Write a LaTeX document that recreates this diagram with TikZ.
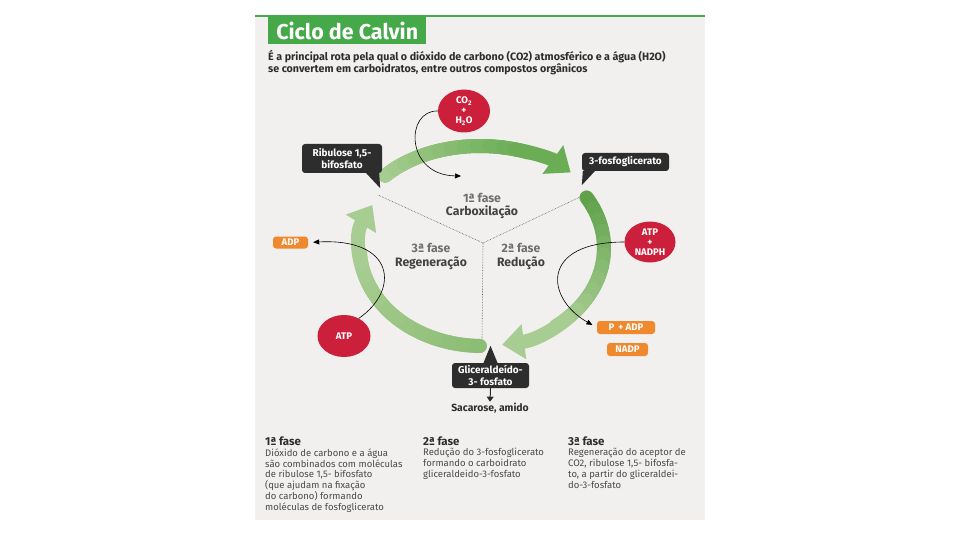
\documentclass[tikz,border=0pt]{standalone}
\usepackage{fontspec}
\setmainfont{Fira Sans}
\usetikzlibrary{positioning,arrows.meta,shapes.geometric,calc}
\definecolor{leaf}{HTML}{45A94A}
\definecolor{panel}{HTML}{F1F0EF}
\definecolor{crimson}{HTML}{CC1F3C}
\definecolor{tangerine}{HTML}{F0892E}
\definecolor{ink}{HTML}{2D2D2D}
\definecolor{soft}{HTML}{6E6E6E}
\definecolor{bodytext}{HTML}{4A4A4A}
\definecolor{arcdark}{HTML}{5FA24A}
\definecolor{arcmid}{HTML}{8CBD74}
\definecolor{arclight}{HTML}{A8CD92}
\definecolor{arctop}{HTML}{6BAD55}

% one green band of the cycle, shaded from #7 to #8
\newcommand{\cyclearc}[8]{%
  \draw[arcband,draw=#8,-{Triangle[width=34pt,length=22pt]}]
    (#1,#2) ++(#5:#3 and #4) arc[start angle=#5,end angle=#6,x radius=#3,y radius=#4];
  \foreach \k in {0,...,11}{
    \pgfmathsetmacro{\ta}{#5+(#6-#5)*0.75*\k/12}
    \pgfmathsetmacro{\tb}{#5+(#6-#5)*0.75*(\k+1)/12}
    \pgfmathtruncatemacro{\pc}{100-100*\k/11}
    \draw[arcband,draw=#7!\pc!#8]
      (#1,#2) ++(\ta:#3 and #4) arc[start angle=\ta,end angle=\tb,x radius=#3,y radius=#4];
  }
}

\tikzset{
  callout/.style={fill=ink,rounded corners=3pt,text=white,align=center,inner sep=1pt,
    font=\fontsize{10}{11.5}\selectfont\bfseries},
  molecule/.style={ellipse,fill=crimson,text=white,align=center,inner sep=0pt,
    font=\fontsize{9.6}{10}\selectfont\bfseries},
  byproduct/.style={fill=tangerine,rounded corners=3pt,text=white,inner sep=0pt,
    font=\fontsize{9.6}{10}\selectfont\bfseries},
  arcband/.style={line width=14pt,line cap=round},
  link/.style={-{Triangle[length=6pt,width=5pt]},line width=0.6pt,black},
  divider/.style={densely dotted,line width=0.6pt,ink!80},
  phase/.style={align=center,inner sep=0pt,text=ink!90,
    font=\fontsize{12.2}{13.5}\selectfont\bfseries},
  colhead/.style={anchor=north west,inner sep=0pt,text=ink,
    font=\fontsize{11.5}{12}\selectfont\bfseries},
  colbody/.style={anchor=north west,inner sep=0pt,align=left,text=bodytext,
    font=\fontsize{9.5}{10.9}\selectfont},
}

\begin{document}
\begin{tikzpicture}[x=1pt,y=-1pt]
\useasboundingbox (0,0) rectangle (960,540);
\fill[white] (0,0) rectangle (960,540);
\fill[panel] (255,16) rectangle (705,520);
\draw[leaf,line width=2pt] (255,16) -- (705,16);

% heading
\node[fill=leaf,text=white,font=\fontsize{21.5}{22}\selectfont\bfseries,
      minimum width=158pt,minimum height=27pt,anchor=north west] (title) at (268,17) {Ciclo de Calvin};
\node[anchor=north west,align=left,inner sep=0pt,text=ink,
      font=\fontsize{10.7}{11.5}\selectfont\bfseries] (lead) at (268,50.5)
  {É a principal rota pela qual o dióxido de carbono (CO2) atmosférico e a água (H2O)\\
   se convertem em carboidratos, entre outros compostos orgânicos};

% the three phases
\coordinate (mid) at (483,243);
\coordinate (cut1) at (378,195);
\coordinate (cut2) at (580,197);
\coordinate (cut3) at (482,340);
\draw[divider] (mid) -- (cut1);
\draw[divider] (mid) -- (cut2);
\draw[divider] (mid) -- (cut3);

\cyclearc{480}{226}{122}{80}{-141}{-42}{arclight}{arctop}
\cyclearc{482}{248}{122}{98}{-31}{80.5}{arcdark}{arclight}
\cyclearc{482}{248}{122}{98}{91}{206}{arcmid}{arclight}

\node[phase] (ph1) at (482,206) {{\color{soft}1ª fase}\\Carboxilação};
\node[phase] (ph2) at (521,256.5) {{\color{soft}2ª fase}\\Redução};
\node[phase] (ph3) at (431,256.5) {{\color{soft}3ª fase}\\Regeneração};

% callouts
\node[callout,minimum width=80pt,minimum height=29pt] (rib) at (342,158.5) {Ribulose 1,5-\\bifosfato};
\fill[ink] ([xshift=-16pt]rib.south east) -- ([xshift=-3pt]rib.south east)
  -- ([xshift=-2pt,yshift=-15pt]rib.south east) -- cycle;
\node[callout,minimum width=87pt,minimum height=18pt] (pga) at (625.5,162) {3-fosfoglicerato};
\fill[ink] ([xshift=1pt]pga.south west) -- ([xshift=13pt]pga.south west)
  -- ([yshift=-14pt]pga.south west) -- cycle;
\node[callout,minimum width=77pt,minimum height=25pt] (gap) at (490.5,375.5) {Gliceraldeído-\\3- fosfato};
\fill[ink] ([xshift=-7pt]gap.north) -- ([xshift=7pt]gap.north) -- ([yshift=17pt]gap.north) -- cycle;
\node[inner sep=1pt,text=ink,font=\fontsize{10.4}{11}\selectfont\bfseries] (sugar) at (490,408) {Sacarose, amido};
\draw[-{Triangle[length=5pt,width=7pt]},line width=1pt,ink] (gap.south) -- (sugar.north);

% inputs and outputs
\node[molecule,minimum width=52pt,minimum height=43pt] (co2) at (464,111) {CO\textsubscript{2}\\+\\H\textsubscript{2}O};
\node[molecule,minimum width=51pt,minimum height=41pt] (atpn) at (650,242) {ATP\\+\\NADPH};
\node[molecule,minimum width=53pt,minimum height=42pt] (atp) at (344,336) {ATP};
\node[byproduct,minimum width=35pt,minimum height=12pt] (adp) at (290.5,242.5) {ADP};
\node[byproduct,minimum width=58pt,minimum height=13pt] (padp) at (626,327.5) {P \,+ ADP};
\node[byproduct,minimum width=41pt,minimum height=13pt] (nadp) at (627.5,349.5) {NADP};

\coordinate (co2tip) at (461,176);
\draw[link] (co2.west) .. controls (405,110) and (405,175) .. (co2tip);
\draw[link,shorten >=5pt] (atpn.west) .. controls (540,242) and (545,298) .. (padp.west);
\draw[link,shorten >=5pt] (atp.50) .. controls (400,290) and (395,238) .. (adp.east);

% notes under the cycle
\node[colhead] (f1) at (265,437) {1ª fase};
\node[colbody,below=2pt of f1.south west,anchor=north west] (t1)
  {Dióxido de carbono e a água\\são combinados com moléculas\\de ribulose 1,5- bifosfato\\
   (que ajudam na fixação\\do carbono) formando\\moléculas de fosfoglicerato};
\node[colhead] (f2) at (423,437) {2ª fase};
\node[colbody,below=2pt of f2.south west,anchor=north west] (t2)
  {Redução do 3-fosfoglicerato\\formando o carboidrato\\gliceraldeido-3-fosfato};
\node[colhead] (f3) at (568,437) {3ª fase};
\node[colbody,below=2pt of f3.south west,anchor=north west] (t3)
  {Regeneração do aceptor de\\CO2, ribulose 1,5- bifosfa-\\to, a partir do gliceraldei-\\do-3-fosfato};
\end{tikzpicture}
\end{document}
